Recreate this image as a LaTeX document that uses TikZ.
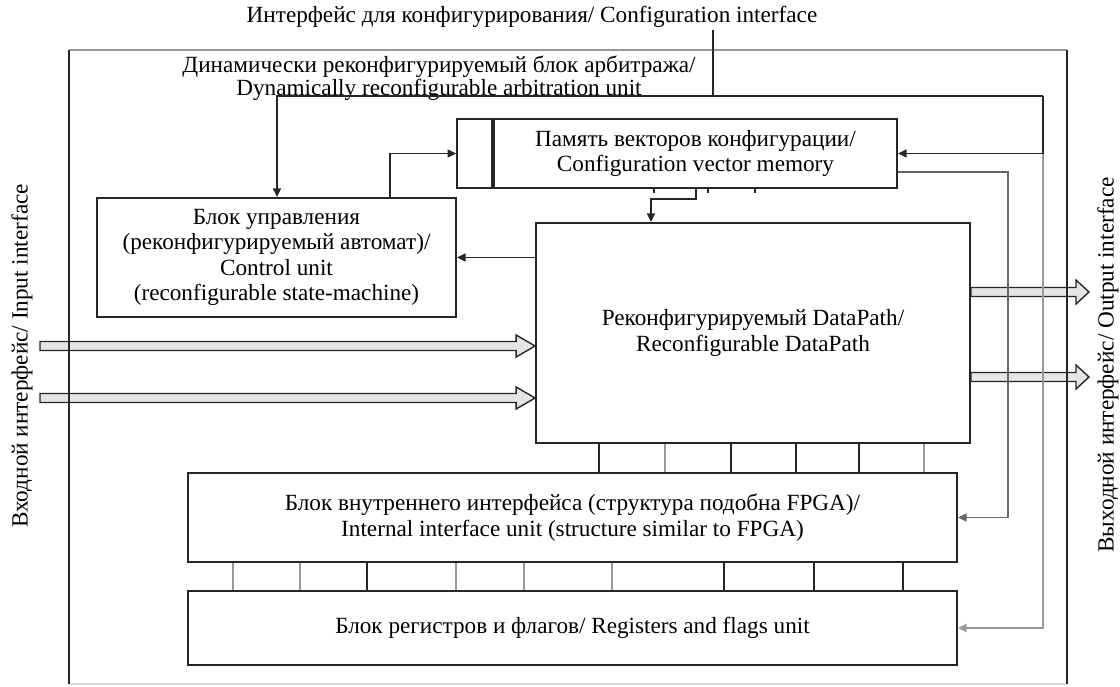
\documentclass[tikz,border=0pt]{standalone}
\usepackage{fontspec}
\setmainfont{Liberation Serif}
\usetikzlibrary{arrows.meta,calc}

\tikzset{
  blk/.style={draw=black!85, line width=0.9pt, inner sep=0pt, align=center, font=\fontsize{11.6}{12.8}\selectfont},
  lbl/.style={inner sep=0pt, align=center, font=\fontsize{11.6}{12.8}\selectfont},
  conn/.style={draw=black!85, line width=0.8pt},
  conng/.style={draw=black!40, line width=0.9pt},
  arr/.style={-{Triangle[length=4.4pt,width=4pt]}},
  fatarr/.style={draw=black!85, line width=0.7pt, fill=black!10},
}

\newcommand{\fatarrow}[4]{%
  \draw[fatarr] ($(#1)+(0,4.5)$) -- ($(#2)+(-#3,4.5)$) -- ($(#2)+(-#3,#4)$) -- (#2)
    -- ($(#2)+(-#3,-#4)$) -- ($(#2)+(-#3,-4.5)$) -- ($(#1)+(0,-4.5)$) -- cycle;}

\begin{document}
\begin{tikzpicture}[x=0.5pt,y=-0.5pt]
    \useasboundingbox (0,0) rectangle (1120,686);

    \node[blk, minimum width=201.5pt, minimum height=34.5pt] (mem) at (695.5,153.5)
        {Память векторов конфигурации/\\Configuration vector memory};
    \node[blk, minimum width=17.5pt, minimum height=34.5pt, anchor=east] (memtag) at (mem.west) {};
    \node[blk, minimum width=179.5pt, minimum height=59.5pt] (ctrl) at (276.5,257.5)
        {Блок управления\\(реконфигурируемый автомат)/\\Control unit\\(reconfigurable state-machine)};
    \node[blk, minimum width=217pt, minimum height=110pt] (dp) at (753,333)
        {Реконфигурируемый DataPath/\\Reconfigurable DataPath};
    \node[blk, minimum width=384.5pt, minimum height=44.5pt] (intf) at (572.5,517.5)
        {Блок внутреннего интерфейса (структура подобна FPGA)/\\Internal interface unit (structure similar to FPGA)};
    \node[blk, minimum width=384.5pt, minimum height=37pt] (regs) at (572.5,628)
        {Блок регистров и флагов/ Registers and flags unit};

    \node[lbl] (cfg) at (532,17) {Интерфейс для конфигурирования/ Configuration interface};
    \node[lbl, font=\fontsize{11.6}{10.5}\selectfont] (arb) at (439,78)
        {Динамически реконфигурируемый блок арбитража/\\Dynamically reconfigurable arbitration unit};
    \node[lbl, rotate=90] (inp) at (22,356) {Входной интерфейс/ Input interface};
    \node[lbl, rotate=90] (outp) at (1108,365) {Выходной интерфейс/ Output interface};

    \coordinate (in1) at (40,346);
    \coordinate (in2) at (40,398);
    \coordinate (in1t) at (in1 -| dp.west);
    \coordinate (in2t) at (in2 -| dp.west);
    \coordinate (out1) at (1089,292);
    \coordinate (out2) at (1089,377);
    \coordinate (out1s) at (out1 -| dp.east);
    \coordinate (out2s) at (out2 -| dp.east);
    \fatarrow{in1}{in1t}{19}{11}
    \fatarrow{in2}{in2t}{19}{11}
    \fatarrow{out1s}{out1}{13}{12}
    \fatarrow{out2s}{out2}{13}{12}

    \coordinate (fnw) at (69,50);
    \coordinate (fne) at (1067,50);
    \coordinate (fsw) at (69,684);
    \coordinate (fse) at (1067,684);
    \draw[black!40, line width=1pt] (fnw) -- (fne);
    \draw[black!15, line width=0.8pt] (fsw) -- (fse);
    \draw[conn] (fnw) -- (fsw);
    \draw[conn] (fne) -- (fse);

    \coordinate (arbL) at (277,96);
    \coordinate (arbR) at (1043,96);
    \coordinate (cfgv) at (713,30);
    \draw[conn] (cfgv) -- (cfgv |- arbL);
    \draw[conn, arr] (arbR) -- (arbL) -- (arbL |- ctrl.north);
    \draw[conn, arr] (arbR) -- (arbR |- mem.east) -- (mem.east);
    \draw[conng, arr] (arbR |- mem.east) -- (arbR |- regs.east) -- (regs.east);

    \coordinate (memout) at ([yshift=-9.25pt]mem.east);
    \coordinate (rail) at (1008,172);
    \draw[conn, draw=black!60, arr] (memout) -- (rail) -- (rail |- intf.east) -- (intf.east);

    \coordinate (cm) at (390,0);
    \draw[conn, arr] (cm |- ctrl.north) -- (cm |- memtag.west) -- (memtag.west);
    \coordinate (md1) at (696,199);
    \coordinate (md2) at (651,199);
    \draw[conn, arr] (md1 |- mem.south) -- (md1) -- (md2) -- (md2 |- dp.north);
    \draw[conn, arr] (dp.west |- ctrl.east) -- (ctrl.east);

    \foreach \x in {654,708,755}
        \draw[conn] (\x,0 |- mem.south) -- ++(0,4);
    \foreach \x/\c in {599/black!85, 665/black!40, 731/black!85, 796/black!85, 859/black!85, 924/black!40}
        \draw[line width=0.8pt, draw=\c] (\x,0 |- dp.south) -- (\x,0 |- intf.north);
    \foreach \x/\c in {233/black!40, 300/black!40, 367/black!85, 456/black!40, 524/black!40, 612/black!40, 724/black!85, 814/black!85, 903/black!85}
        \draw[line width=0.8pt, draw=\c] (\x,0 |- intf.south) -- (\x,0 |- regs.north);
\end{tikzpicture}
\end{document}
